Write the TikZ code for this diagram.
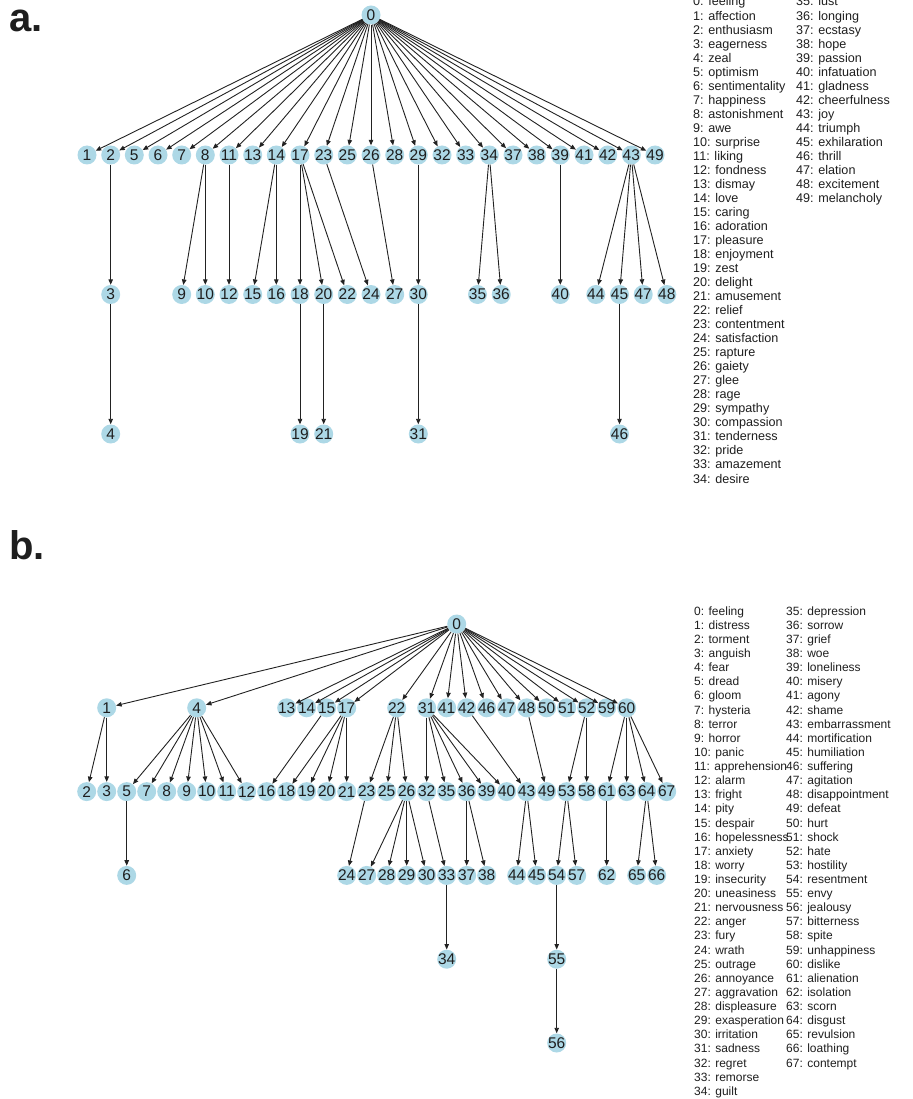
\documentclass[tikz,border=0pt]{standalone}
\usepackage{fontspec}
\setmainfont{Liberation Sans}
\usetikzlibrary{arrows.meta}
\definecolor{nodeblue}{HTML}{ADD8E6}
\definecolor{edgec}{HTML}{222222}
\definecolor{txt}{HTML}{1E1E1E}
\tikzset{
  nd/.style={circle, fill=nodeblue, minimum size=19pt, inner sep=0pt, font=\fontsize{15.5}{16}\selectfont, text=txt},
  ed/.style={draw=edgec, line width=0.9pt, -{Triangle[length=5.5pt,width=4.5pt]}},
  lg/.style={anchor=base west, inner sep=0pt, font=\fontsize{12}{14}\selectfont, text=txt},
  lga/.style={lg, font=\fontsize{12.6}{14}\selectfont},
  panel/.style={anchor=base west, inner sep=0pt, font=\fontsize{40}{40}\selectfont\bfseries, text=txt}
}
\begin{document}
\begin{tikzpicture}[x=1pt,y=-1pt]
\useasboundingbox (0,0) rectangle (912,1099);
% ---------------- panel a ----------------
\node[panel] (pa) at (9,31.5) {a.};
\node[nd] (a0) at (371,15) {\makebox[0pt]{0}};
\foreach \n/\x in {1/87, 2/110.7, 5/134.3, 6/158, 7/181.7, 8/205.3, 11/229, 13/252.7, 14/276.3, 17/300, 23/323.7, 25/347.3, 26/371, 28/394.7, 29/418.3, 32/442, 33/465.7, 34/489.3, 37/513, 38/536.7, 39/560.3, 41/584, 42/607.7, 43/631.3, 49/655}
  \node[nd] (a\n) at (\x,155) {\makebox[0pt]{\n}};
\foreach \n/\x in {3/110.7, 9/181.7, 10/205.3, 12/229, 15/252.7, 16/276.3, 18/300, 20/323.7, 22/347.3, 24/371, 27/394.7, 30/418.3, 35/477.5, 36/501.2, 40/560.3, 44/595.8, 45/619.5, 47/643.2, 48/666.8}
  \node[nd] (a\n) at (\x,294.5) {\makebox[0pt]{\n}};
\foreach \n/\x in {4/110.7, 19/300, 21/323.7, 31/418.3, 46/619.5}
  \node[nd] (a\n) at (\x,434) {\makebox[0pt]{\n}};
\foreach \n in {1,2,5,6,7,8,11,13,14,17,23,25,26,28,29,32,33,34,37,38,39,41,42,43,49}
  \draw[ed] (a0) -- (a\n);
\foreach \p/\c in {2/3, 3/4, 8/9, 8/10, 11/12, 14/15, 14/16, 17/18, 17/20, 17/22, 18/19, 20/21, 23/24, 26/27, 29/30, 30/31, 34/35, 34/36, 39/40, 43/44, 43/45, 43/47, 43/48, 45/46}
  \draw[ed] (a\p) -- (a\c);
% legend a
\foreach \w [count=\i from 0] in {feeling, affection, enthusiasm, eagerness, zeal, optimism, sentimentality, happiness, astonishment, awe, surprise, liking, fondness, dismay, love, caring, adoration, pleasure, enjoyment, zest, delight, amusement, relief, contentment, satisfaction, rapture, gaiety, glee, rage, sympathy, compassion, tenderness, pride, amazement, desire}
  \node[lga] (la\i) at (693,{6+14.03*\i}) {\i: \w};
\foreach \w [count=\i from 35] in {lust, longing, ecstasy, hope, passion, infatuation, gladness, cheerfulness, joy, triumph, exhilaration, thrill, elation, excitement, melancholy}
  \node[lga] (la\i) at (796,{6+14.03*(\i-35)}) {\i: \w};
% ---------------- panel b ----------------
\node[panel] (pb) at (9,559) {b.};
\node[nd] (b0) at (456.7,624) {\makebox[0pt]{0}};
\foreach \n/\x in {1/106.7, 4/196.7, 13/286.7, 14/306.7, 15/326.7, 17/346.7, 22/396.7, 31/426.7, 41/446.7, 42/466.7, 46/486.7, 47/506.7, 48/526.7, 50/546.7, 51/566.7, 52/586.7, 59/606.7, 60/626.7}
  \node[nd] (b\n) at (\x,707.8) {\makebox[0pt]{\n}};
\foreach \n [count=\k from 0] in {2,3,5,7,8,9,10,11,12,16,18,19,20,21,23,25,26,32,35,36,39,40,43,49,53,58,61,63,64,67}
  \node[nd] (b\n) at ({86.7+20*\k},791.6) {\makebox[0pt]{\n}};
\foreach \n/\x in {6/126.7, 24/346.7, 27/366.7, 28/386.7, 29/406.7, 30/426.7, 33/446.7, 37/466.7, 38/486.7, 44/516.7, 45/536.7, 54/556.7, 57/576.7, 62/606.7, 65/636.7, 66/656.7}
  \node[nd] (b\n) at (\x,875.4) {\makebox[0pt]{\n}};
\node[nd] (b34) at (446.7,959.2) {\makebox[0pt]{34}};
\node[nd] (b55) at (556.7,959.2) {\makebox[0pt]{55}};
\node[nd] (b56) at (556.7,1043) {\makebox[0pt]{56}};
\foreach \n in {1,4,13,14,15,17,22,31,41,42,46,47,48,50,51,52,59,60}
  \draw[ed] (b0) -- (b\n);
\foreach \p/\c in {1/2,1/3,4/5,4/7,4/8,4/9,4/10,4/11,4/12,5/6,15/16,17/18,17/19,17/20,17/21,22/23,22/25,22/26,23/24,26/27,26/28,26/29,26/30,31/32,31/35,31/36,31/39,31/40,32/33,33/34,36/37,36/38,42/43,43/44,43/45,48/49,52/53,52/58,53/54,53/57,54/55,55/56,60/61,60/63,60/64,60/67,61/62,64/65,64/66}
  \draw[ed] (b\p) -- (b\c);
% legend b
\foreach \w [count=\i from 0] in {feeling, distress, torment, anguish, fear, dread, gloom, hysteria, terror, horror, panic, apprehension, alarm, fright, pity, despair, hopelessness, anxiety, worry, insecurity, uneasiness, nervousness, anger, fury, wrath, outrage, annoyance, aggravation, displeasure, exasperation, irritation, sadness, regret, remorse, guilt}
  \node[lg] (lb\i) at (694,{615.2+14.12*\i}) {\i: \w};
\foreach \w [count=\i from 35] in {depression, sorrow, grief, woe, loneliness, misery, agony, shame, embarrassment, mortification, humiliation, suffering, agitation, disappointment, defeat, hurt, shock, hate, hostility, resentment, envy, jealousy, bitterness, spite, unhappiness, dislike, alienation, isolation, scorn, disgust, revulsion, loathing, contempt}
  \node[lg] (lb\i) at (786,{615.2+14.12*(\i-35)}) {\i: \w};
\end{tikzpicture}
\end{document}
